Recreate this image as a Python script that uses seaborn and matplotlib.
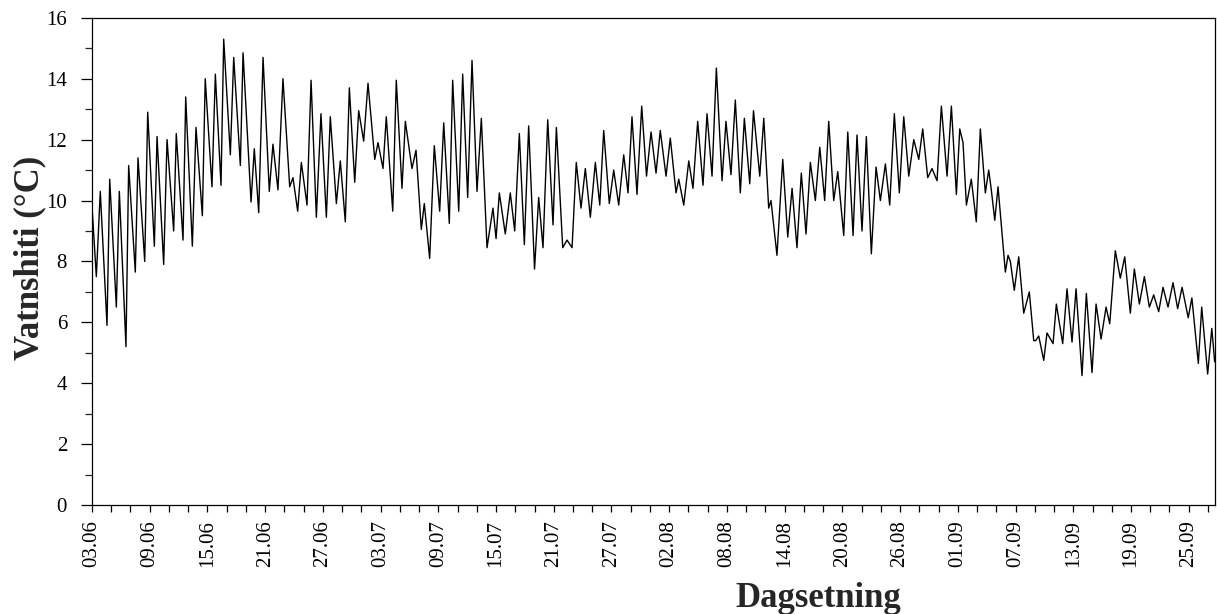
import matplotlib
matplotlib.use("Agg")
import matplotlib.pyplot as plt
import seaborn as sns
import numpy as np
import pandas as pd

# ---- data ----
# time of each turning point, in days after 03.06, and water temperature (°C)
day_offset = [
    0.00, 0.45, 0.86, 1.56, 1.84, 2.53, 2.84, 3.53, 3.81, 4.50, 4.78, 5.48, 5.79,
    6.48, 6.76, 7.45, 7.80, 8.49, 8.76, 9.46, 9.74, 10.43, 10.81, 11.47, 11.77,
    12.47, 12.82, 13.41, 13.69, 14.38, 14.73, 15.42, 15.70, 16.53, 16.87, 17.33,
    17.78, 18.43, 18.81, 19.33, 19.85, 20.55, 20.89, 21.38, 21.76, 22.35, 22.77,
    23.32, 23.80, 24.36, 24.77, 25.40, 25.81, 26.33, 26.75, 27.31, 27.72, 28.24,
    28.69, 29.39, 29.73, 30.25, 30.59, 31.26, 31.63, 32.22, 32.57, 33.26, 33.68,
    34.23, 34.54, 35.10, 35.58, 36.14, 36.56, 37.14, 37.49, 38.12, 38.53, 39.05,
    39.50, 40.02, 40.47, 41.06, 41.68, 42.00, 42.34, 42.96, 43.48, 43.94, 44.42,
    44.94, 45.39, 46.00, 46.43, 46.88, 47.37, 47.92, 48.27, 48.93, 49.38, 49.90,
    50.34, 50.83, 51.28, 51.80, 52.32, 52.78, 53.19, 53.77, 54.23, 54.75, 55.27,
    55.72, 56.13, 56.65, 57.14, 57.64, 58.11, 58.63, 59.07, 59.67, 60.11, 60.71,
    60.99, 61.51, 62.03, 62.47, 62.96, 63.51, 63.93, 64.45, 64.90, 65.49, 65.90,
    66.42, 66.87, 67.39, 67.81, 68.37, 68.76, 69.41, 69.83, 70.34, 70.58, 71.20,
    71.80, 72.32, 72.77, 73.28, 73.73, 74.22, 74.67, 75.19, 75.65, 76.16, 76.58,
    77.10, 77.52, 78.14, 78.56, 79.11, 79.52, 80.04, 80.49, 81.01, 81.50, 81.95,
    82.47, 82.92, 83.40, 83.92, 84.38, 84.90, 85.42, 85.94, 86.35, 86.87, 87.32,
    87.84, 88.29, 88.88, 89.33, 89.85, 90.20, 90.54, 90.89, 91.40, 91.92, 92.34,
    92.86, 93.21, 93.48, 93.84, 94.18, 94.94, 95.22, 95.46, 95.87, 96.33, 96.85,
    97.43, 97.89, 98.10, 98.41, 98.93, 99.27, 99.90, 100.24, 100.90, 101.35,
    101.87, 102.29, 102.91, 103.36, 103.95, 104.37, 104.89, 105.41, 105.79,
    106.37, 106.89, 107.35, 107.93, 108.35, 108.87, 109.39, 109.91, 110.36,
    110.88, 111.33, 111.85, 112.37, 112.85, 113.31, 113.95, 114.33, 115.00,
    115.35, 115.97, 116.40, 116.70,
]
temperature = [
    9.8, 7.5, 10.3, 5.9, 10.7, 6.5, 10.3, 5.2, 11.15, 7.65, 11.4, 8.0, 12.9,
    8.5, 12.1, 7.9, 12.0, 9.0, 12.2, 8.7, 13.4, 8.5, 12.4, 9.5, 14.0,
    10.45, 14.15, 10.5, 15.3, 11.5, 14.7, 11.15, 14.85, 9.95, 11.7, 9.6,
    14.7, 10.3, 11.85, 10.35, 14.0, 10.45, 10.75, 9.65, 11.25, 9.85, 13.95,
    9.45, 12.85, 9.45, 12.75, 9.9, 11.3, 9.3, 13.7, 10.6, 12.95, 11.95,
    13.85, 11.35, 11.9, 11.05, 12.75, 9.65, 13.95, 10.4, 12.6, 11.05, 11.65,
    9.05, 9.9, 8.1, 11.8, 9.65, 12.55, 9.25, 13.95, 9.65, 14.15, 10.1,
    14.6, 10.3, 12.7, 8.45, 9.75, 8.75, 10.25, 8.9, 10.25, 9.0, 12.2,
    8.55, 12.45, 7.75, 10.1, 8.45, 12.65, 9.2, 12.4, 8.45, 8.7, 8.45,
    11.25, 9.75, 11.05, 9.45, 11.25, 9.85, 12.3, 9.9, 11.0, 9.85, 11.5,
    10.25, 12.75, 10.2, 13.1, 10.8, 12.25, 10.9, 12.3, 10.8, 12.05, 10.25,
    10.7, 9.85, 11.3, 10.4, 12.6, 10.5, 12.85, 10.8, 14.35, 10.65, 12.6,
    10.85, 13.3, 10.25, 12.7, 10.55, 12.95, 10.8, 12.7, 9.75, 10.0, 8.2,
    11.35, 8.8, 10.4, 8.45, 10.9, 8.9, 11.25, 10.0, 11.75, 10.0, 12.6,
    10.0, 10.95, 8.85, 12.25, 8.85, 12.15, 9.0, 12.1, 8.25, 11.1, 10.0,
    11.2, 9.85, 12.85, 10.25, 12.75, 10.8, 12.0, 11.35, 12.35, 10.75, 11.05,
    10.65, 13.1, 10.8, 13.1, 10.2, 12.35, 11.9, 9.85, 10.7, 9.3, 12.35,
    10.25, 11.0, 10.35, 9.35, 10.45, 7.65, 8.2, 8.0, 7.05, 8.15, 6.3,
    7.0, 5.4, 5.4, 5.55, 4.75, 5.65, 5.3, 6.6, 5.3, 7.1,
    5.35, 7.1, 4.25, 6.95, 4.35, 6.6, 5.45, 6.5, 5.95,
    8.35, 7.45, 8.15, 6.3, 7.75, 6.6, 7.5, 6.5, 6.9,
    6.35, 7.15, 6.5, 7.3, 6.45, 7.15, 6.15, 6.8, 4.65,
    6.5, 4.3, 5.8, 4.7,
]
tick_labels = ["03.06", "09.06", "15.06", "21.06", "27.06", "03.07", "09.07",
               "15.07", "21.07", "27.07", "02.08", "08.08", "14.08", "20.08",
               "26.08", "01.09", "07.09", "13.09", "19.09", "25.09"]
y_label = "Vatnshiti (°C)"
x_label = "Dagsetning"

# ---- build the frame ----
start = pd.Timestamp("2000-06-03")
df = pd.DataFrame({
    "time": start + pd.to_timedelta(np.array(day_offset), unit="D"),
    "temp": temperature,
})

sns.set_theme(style="ticks")
plt.rcParams["font.family"] = ["Liberation Serif", "DejaVu Serif"]

fig = plt.figure(figsize=(12.17, 6.14), dpi=100)
ax = fig.add_axes([0.0756, 0.1775, 0.9225, 0.7935])

sns.lineplot(data=df, x="time", y="temp", color="black", linewidth=1.0,
             sort=False, estimator=None, ax=ax)

# x axis: labelled every 6 days, ticks every 2 days
tick_dates = pd.to_datetime([f"{t}.2000" for t in tick_labels], format="%d.%m.%Y")
end = start + pd.Timedelta(days=116.7)
ax.set_xlim(start, end)
ax.set_xticks(tick_dates)
ax.set_xticklabels(tick_labels, rotation=90, fontsize=15)
ax.set_xticks(pd.date_range(start, end, freq="2D"), minor=True)

# y axis
ax.set_ylim(0, 16)
ax.set_yticks(np.arange(0, 17, 2))
ax.set_yticks(np.arange(0, 17, 1), minor=True)
ax.tick_params(axis="y", which="major", labelsize=15, length=8, width=0.9,
               direction="out", pad=10, colors="black")
ax.tick_params(axis="y", which="minor", length=5, width=0.9, direction="out")
ax.tick_params(axis="x", which="both", length=5, width=0.9, direction="out",
               colors="black")
ax.tick_params(axis="x", which="major", pad=6)

for s in ax.spines.values():
    s.set_visible(True)
    s.set_color("black")
    s.set_linewidth(0.9)

ax.set_xlabel(x_label, fontsize=25, fontweight="bold")
ax.set_ylabel(y_label, fontsize=25, fontweight="bold")
ax.xaxis.set_label_coords(0.647, -0.158)
ax.yaxis.set_label_coords(-0.041, 0.507)
ax.grid(False)
ax.set_facecolor("white")
fig.patch.set_facecolor("white")

fig.savefig("out.png", dpi=100)
